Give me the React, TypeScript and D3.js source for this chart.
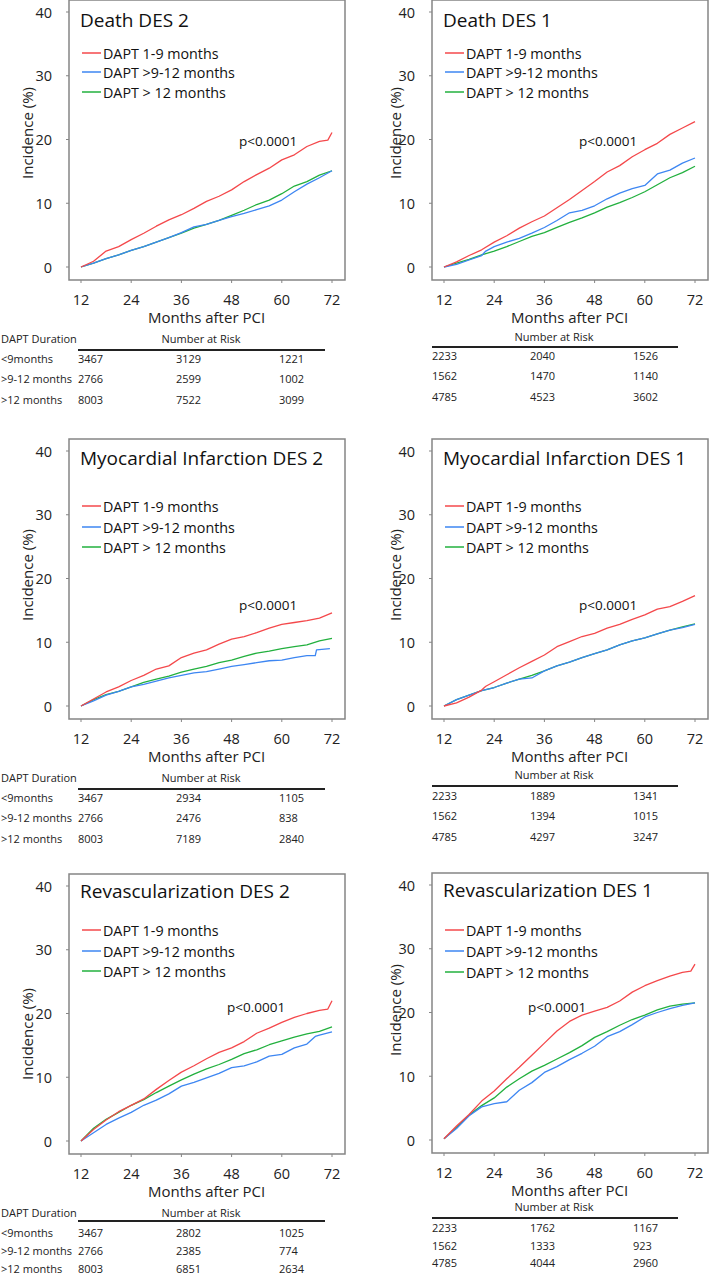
import React from 'react';
import * as d3 from 'd3';

const SERIES_NAMES = ['DAPT 1-9 months', 'DAPT >9-12 months', 'DAPT > 12 months'];
const SERIES_COLORS = ['#f4484b', '#3d86f2', '#22b03e'];
const X_TICKS = [12, 24, 36, 48, 60, 72];
const Y_TICKS = [0, 10, 20, 30, 40];
const RISK_GROUPS = ['<9months', '>9-12 months', '>12 months'];

// Death DES 2
const deathDes2Red = [[12,0],[15,0.9],[18,2.5],[21,3.2],[24,4.3],[27,5.3],[30,6.4],[33,7.4],[36,8.2],[39,9.2],[42,10.3],[45,11.1],[48,12.1],[51,13.4],[54,14.5],[57,15.5],[60,16.8],[63,17.6],[66,18.9],[69,19.7],[71,19.9],[72,21.1]];
const deathDes2Blue = [[12,0],[15,0.6],[18,1.3],[21,1.9],[24,2.6],[27,3.2],[30,3.9],[33,4.6],[36,5.4],[39,6.3],[42,6.7],[45,7.3],[48,7.9],[51,8.4],[54,9.0],[57,9.6],[60,10.5],[63,11.8],[66,13.0],[69,14.0],[72,15.1]];
const deathDes2Green = [[12,0],[15,0.6],[18,1.3],[21,1.9],[24,2.6],[27,3.2],[30,3.9],[33,4.6],[36,5.3],[39,6.1],[42,6.7],[45,7.3],[48,8.1],[51,8.9],[54,9.8],[57,10.5],[60,11.5],[63,12.7],[66,13.4],[69,14.4],[72,15.1]];

// Death DES 1
const deathDes1Red = [[12,0],[15,0.8],[18,1.8],[21,2.7],[24,3.9],[27,4.9],[30,6.1],[33,7.1],[36,8.0],[39,9.3],[42,10.6],[45,12.0],[48,13.4],[51,14.9],[54,15.9],[57,17.3],[60,18.4],[63,19.4],[66,20.8],[69,21.8],[72,22.8]];
const deathDes1Blue = [[12,0],[15,0.4],[18,1.1],[21,1.8],[22,2.5],[24,3.2],[27,3.9],[30,4.5],[33,5.3],[36,6.2],[39,7.3],[42,8.5],[45,8.9],[48,9.6],[51,10.7],[54,11.6],[57,12.3],[60,12.8],[63,14.6],[66,15.2],[69,16.3],[72,17.1]];
const deathDes1Green = [[12,0],[15,0.6],[18,1.2],[21,1.9],[24,2.5],[27,3.2],[30,4.0],[33,4.8],[36,5.4],[39,6.2],[42,7.0],[45,7.7],[48,8.5],[51,9.4],[54,10.1],[57,10.9],[60,11.8],[63,12.9],[66,14.0],[69,14.8],[72,15.8]];

// Myocardial Infarction DES 2
const miDes2Red = [[12,0],[15,1.1],[18,2.2],[21,3.0],[24,4.0],[27,4.8],[30,5.8],[33,6.3],[36,7.6],[39,8.3],[42,8.8],[45,9.7],[48,10.5],[51,10.9],[54,11.5],[57,12.2],[60,12.8],[63,13.1],[66,13.4],[69,13.8],[72,14.6]];
const miDes2Blue = [[12,0],[15,0.8],[18,1.7],[21,2.3],[24,3.0],[27,3.4],[30,3.9],[33,4.4],[36,4.8],[39,5.2],[42,5.4],[45,5.8],[48,6.2],[51,6.5],[54,6.8],[57,7.1],[60,7.2],[63,7.6],[66,7.9],[68,7.9],[68.3,8.8],[71.5,9.0]];
const miDes2Green = [[12,0],[15,1.0],[18,1.8],[21,2.3],[24,3.0],[27,3.7],[30,4.2],[33,4.7],[36,5.3],[39,5.8],[42,6.2],[45,6.8],[48,7.2],[51,7.8],[54,8.3],[57,8.6],[60,9.0],[63,9.3],[66,9.6],[69,10.2],[72,10.6]];

// Myocardial Infarction DES 1
const miDes1Red = [[12,0],[15,0.5],[18,1.4],[21,2.5],[22,3.1],[24,3.8],[27,4.9],[30,6.0],[33,7.0],[36,8.0],[39,9.3],[42,10.1],[45,10.9],[48,11.4],[51,12.2],[54,12.8],[57,13.6],[60,14.3],[63,15.2],[66,15.6],[69,16.4],[72,17.3]];
const miDes1Blue = [[12,0],[15,1.0],[18,1.7],[21,2.4],[24,2.9],[27,3.6],[30,4.2],[33,4.4],[36,5.5],[39,6.3],[42,6.9],[45,7.6],[48,8.2],[51,8.8],[54,9.6],[57,10.2],[60,10.7],[63,11.3],[66,11.9],[69,12.3],[72,12.8]];
const miDes1Green = [[12,0],[15,1.0],[18,1.7],[21,2.4],[24,2.9],[27,3.6],[30,4.2],[33,4.8],[36,5.5],[39,6.3],[42,6.9],[45,7.6],[48,8.2],[51,8.8],[54,9.6],[57,10.2],[60,10.7],[63,11.3],[66,11.9],[69,12.4],[72,12.9]];

// Revascularization DES 2
const revDes2Red = [[12,0],[15,1.8],[18,3.3],[21,4.6],[24,5.6],[27,6.6],[30,8.1],[33,9.5],[36,10.8],[39,11.8],[42,12.9],[45,13.9],[48,14.6],[51,15.6],[54,16.9],[57,17.7],[60,18.6],[63,19.4],[66,20.0],[69,20.5],[71,20.7],[72,22.0]];
const revDes2Blue = [[12,0],[15,1.3],[18,2.6],[21,3.6],[24,4.5],[27,5.6],[30,6.4],[33,7.4],[36,8.6],[39,9.2],[42,9.9],[45,10.6],[48,11.5],[51,11.8],[54,12.4],[57,13.3],[60,13.6],[63,14.6],[66,15.2],[68,16.4],[69,16.6],[72,17.1]];
const revDes2Green = [[12,0],[15,2.0],[18,3.4],[21,4.5],[24,5.6],[27,6.5],[30,7.6],[33,8.6],[36,9.6],[39,10.5],[42,11.3],[45,12.0],[48,12.8],[51,13.7],[54,14.3],[57,15.1],[60,15.7],[63,16.3],[66,16.8],[69,17.2],[72,17.9]];

// Revascularization DES 1
const revDes1Red = [[12,0.2],[15,2.2],[18,4.0],[21,6.1],[24,7.7],[27,9.6],[30,11.4],[33,13.3],[36,15.2],[39,17.1],[42,18.6],[45,19.6],[48,20.2],[51,20.8],[54,21.8],[57,23.2],[60,24.2],[63,25.0],[66,25.7],[69,26.3],[71,26.5],[72,27.6]];
const revDes1Blue = [[12,0.2],[15,1.8],[18,3.8],[21,5.2],[24,5.7],[27,6.0],[30,7.8],[33,9.0],[36,10.6],[39,11.5],[42,12.6],[45,13.6],[48,14.7],[51,16.2],[54,17.0],[57,18.1],[60,19.3],[63,20.0],[66,20.6],[69,21.1],[72,21.5]];
const revDes1Green = [[12,0.2],[15,2.0],[18,3.9],[21,5.4],[24,6.6],[27,8.3],[30,9.6],[33,10.8],[36,11.7],[39,12.7],[42,13.7],[45,14.8],[48,16.1],[51,17.0],[54,18.0],[57,18.9],[60,19.6],[63,20.4],[66,21.0],[69,21.3],[72,21.5]];

// Number at risk (rows: groups, cols: 12, 36, 60 months)
const riskDeathDes2 = [[3467, 3129, 1221], [2766, 2599, 1002], [8003, 7522, 3099]];
const riskDeathDes1 = [[2233, 2040, 1526], [1562, 1470, 1140], [4785, 4523, 3602]];
const riskMiDes2 = [[3467, 2934, 1105], [2766, 2476, 838], [8003, 7189, 2840]];
const riskMiDes1 = [[2233, 1889, 1341], [1562, 1394, 1015], [4785, 4297, 3247]];
const riskRevDes2 = [[3467, 2802, 1025], [2766, 2385, 774], [8003, 6851, 2634]];
const riskRevDes1 = [[2233, 1762, 1167], [1562, 1333, 923], [4785, 4044, 2960]];

const TITLES = ['Death DES 2', 'Death DES 1', 'Myocardial Infarction DES 2', 'Myocardial Infarction DES 1', 'Revascularization DES 2', 'Revascularization DES 1'];

const PANELS = [
  { title: TITLES[0], series: [deathDes2Red, deathDes2Blue, deathDes2Green], risk: riskDeathDes2, col: 0, top: 12,
    titleDy: 15, legendDy: [41, 60, 80], pDx: 158, pDy: 134, ylabDy: 121, tbl: { nar: 71, line: 83, rows: [91, 111, 132] }, showDur: true },
  { title: TITLES[1], series: [deathDes1Red, deathDes1Blue, deathDes1Green], risk: riskDeathDes1, col: 1, top: 12,
    titleDy: 15, legendDy: [41, 60, 80], pDx: 135, pDy: 134, ylabDy: 121, tbl: { nar: 69, line: 80, rows: [88, 108, 129] }, showDur: false },
  { title: TITLES[2], series: [miDes2Red, miDes2Blue, miDes2Green], risk: riskMiDes2, col: 0, top: 451,
    titleDy: 14, legendDy: [55, 76, 96], pDx: 158, pDy: 159, ylabDy: 124, tbl: { nar: 71, line: 83, rows: [91, 111, 132] }, showDur: true },
  { title: TITLES[3], series: [miDes1Red, miDes1Blue, miDes1Green], risk: riskMiDes1, col: 1, top: 451,
    titleDy: 14, legendDy: [55, 76, 96], pDx: 135, pDy: 159, ylabDy: 124, tbl: { nar: 68, line: 80, rows: [89, 109, 130] }, showDur: false },
  { title: TITLES[4], series: [revDes2Red, revDes2Blue, revDes2Green], risk: riskRevDes2, col: 0, top: 886,
    titleDy: 12, legendDy: [44, 65, 85], pDx: 146, pDy: 126, ylabDy: 148, tbl: { nar: 71, line: 80, rows: [91, 109, 127] }, showDur: true },
  { title: TITLES[5], series: [revDes1Red, revDes1Blue, revDes1Green], risk: riskRevDes1, col: 1, top: 885,
    titleDy: 12, legendDy: [45, 66, 87], pDx: 84, pDy: 127, ylabDy: 125, tbl: { nar: 66, line: 78, rows: [87, 105, 122] }, showDur: false },
];

const COL_X12 = [81, 444];
const PLOT_W = 251;
const PLOT_H = 255;
const COL_TABLE = [
  { vals: [-3, 95, 198], line: [-3, 244], nar: 120 },
  { vals: [-12, 86, 189], line: [-12, 234], nar: 110 },
];

const FONT = "'Open Sans', 'Liberation Sans', sans-serif";
const FRAME = '#858585';

function Panel({ p }: { p: any }) {
  const x0 = COL_X12[p.col];
  const x = d3.scaleLinear().domain([12, 72]).range([x0, x0 + PLOT_W]);
  const y = d3.scaleLinear().domain([0, 40]).range([p.top + PLOT_H, p.top]);
  const line = d3.line<number[]>().x(d => x(d[0])).y(d => y(d[1])).curve(d3.curveLinear);
  const fL = x(12) - 12, fR = x(72) + 13, fT = y(40) - 12, fB = y(0) + 13;
  const y0 = y(0);
  const ct = COL_TABLE[p.col];
  const ylabX = fL - (p.col === 0 ? 42 : 37);
  return (
    <g>
      <rect x={fL} y={fT} width={fR - fL} height={fB - fT} fill="white" stroke={FRAME} strokeWidth={1.5} />
      {Y_TICKS.map(t => (
        <g key={'y' + t}>
          <line x1={fL - 3} x2={fL} y1={y(t)} y2={y(t)} stroke={FRAME} strokeWidth={1} />
          <text x={fL - 17} y={y(t)} textAnchor="end" dominantBaseline="central" fontSize={14.5} fontFamily={FONT} fill="#222">{t}</text>
        </g>
      ))}
      {X_TICKS.map(t => (
        <g key={'x' + t}>
          <line x1={x(t)} x2={x(t)} y1={fB} y2={fB + 3} stroke={FRAME} strokeWidth={1} />
          <text x={x(t)} y={y0 + 32} textAnchor="middle" dominantBaseline="central" fontSize={14.5} fontFamily={FONT} fill="#222">{t}</text>
        </g>
      ))}
      <text x={x(42)} y={y0 + 50} textAnchor="middle" dominantBaseline="central" fontSize={15} fontFamily={FONT} fill="#222">Months after PCI</text>
      <text transform={`translate(${ylabX},${p.top + p.ylabDy}) rotate(-90)`} textAnchor="middle" dominantBaseline="central" fontSize={15} fontFamily={FONT} fill="#222">Incidence (%)</text>
      <text x={x0 - 1} y={p.top + p.titleDy} fontSize={19} fontFamily={FONT} fill="#111">{p.title}</text>
      {SERIES_NAMES.map((n, i) => (
        <g key={n}>
          <line x1={x0 + 1} x2={x0 + 20} y1={p.top + p.legendDy[i]} y2={p.top + p.legendDy[i]} stroke={SERIES_COLORS[i]} strokeWidth={1.5} />
          <text x={x0 + 22} y={p.top + p.legendDy[i]} dominantBaseline="central" fontSize={14.3} fontFamily={FONT} fill="#111">{n}</text>
        </g>
      ))}
      <text x={x0 + p.pDx} y={p.top + p.pDy} fontSize={13.5} fontFamily={FONT} fill="#111">p&lt;0.0001</text>
      {[2, 1, 0].map(i => (
        <path key={'s' + i} d={line(p.series[i]) || ''} fill="none" stroke={SERIES_COLORS[i]} strokeWidth={1.3} strokeLinejoin="round" />
      ))}
      {/* risk table */}
      {p.showDur && (
        <text x={1} y={y0 + p.tbl.nar} dominantBaseline="central" fontSize={11} fontFamily={FONT} fill="#222">DAPT Duration</text>
      )}
      <text x={x0 + ct.nar} y={y0 + p.tbl.nar} textAnchor="middle" dominantBaseline="central" fontSize={11} fontFamily={FONT} fill="#222">Number at Risk</text>
      <line x1={x0 + ct.line[0]} x2={x0 + ct.line[1]} y1={y0 + p.tbl.line} y2={y0 + p.tbl.line} stroke="#222" strokeWidth={2} />
      {RISK_GROUPS.map((g, r) => (
        <g key={g}>
          {p.showDur && (
            <text x={1} y={y0 + p.tbl.rows[r]} dominantBaseline="central" fontSize={11} fontFamily={FONT} fill="#222">{g}</text>
          )}
          {p.risk[r].map((v: number, c: number) => (
            <text key={c} x={x0 + ct.vals[c]} y={y0 + p.tbl.rows[r]} dominantBaseline="central" fontSize={11} fontFamily={FONT} fill="#222">{v}</text>
          ))}
        </g>
      ))}
    </g>
  );
}

export default function App() {
  return (
    <div style={{ position: 'absolute', left: 0, top: 0 }}>
      <svg width={709} height={1275} viewBox="0 0 709 1275" style={{ display: 'block', background: 'white' }}>
        {PANELS.map((p, i) => <Panel key={i} p={p} />)}
      </svg>
    </div>
  );
}
